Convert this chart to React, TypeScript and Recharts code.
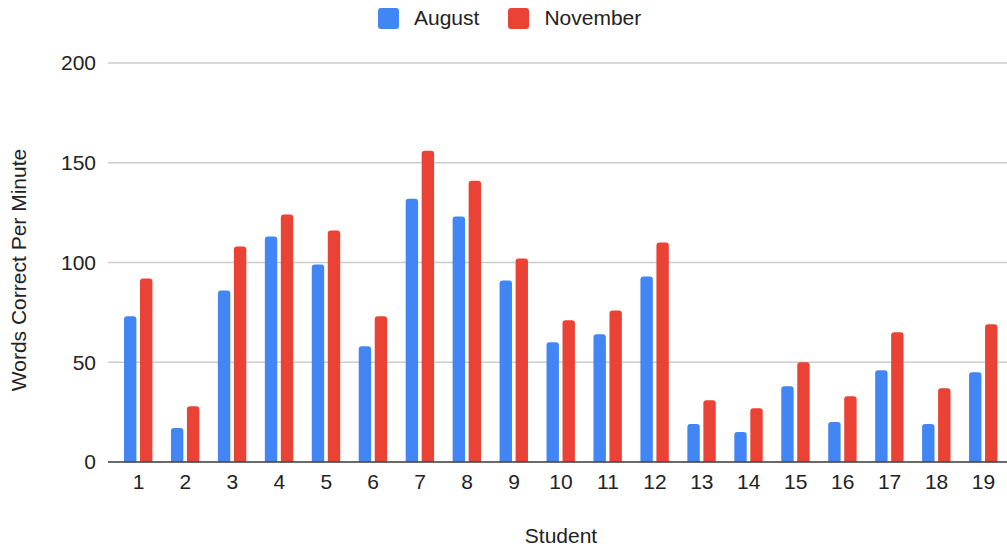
import React from "react";
import { BarChart, Bar, XAxis, YAxis, CartesianGrid, Legend } from "recharts";

const students = ["1", "2", "3", "4", "5", "6", "7", "8", "9", "10", "11", "12", "13", "14", "15", "16", "17", "18", "19"];
const august = [73, 17, 86, 113, 99, 58, 132, 123, 91, 60, 64, 93, 19, 15, 38, 20, 46, 19, 45];
const november = [92, 28, 108, 124, 116, 73, 156, 141, 102, 71, 76, 110, 31, 27, 50, 33, 65, 37, 69];
const yTicks = [0, 50, 100, 150, 200];

const BLUE = "#4285F4";
const RED = "#EA4335";
const FONT = "'Liberation Sans', Arial, Helvetica, sans-serif";

const data = students.map((s, i) => ({ student: s, August: august[i], November: november[i] }));

const series = [
  { key: "August", color: BLUE },
  { key: "November", color: RED },
];

const renderLegend = () => (
  <div style={{ display: "flex", alignItems: "center", fontFamily: FONT, fontSize: 21, color: "#222", height: 24 }}>
    {series.map((s, i) => (
      <div key={s.key} style={{ display: "flex", alignItems: "center", marginLeft: i === 0 ? 0 : 29 }}>
        <span style={{ width: 21, height: 21, background: s.color, borderRadius: 3, marginRight: 15, display: "inline-block" }} />
        <span>{s.key}</span>
      </div>
    ))}
  </div>
);

export default function App() {
  return (
    <div style={{ position: "absolute", left: 0, top: 0, width: 1007, height: 554, background: "#fff" }}>
      <BarChart
        width={1007}
        height={554}
        data={data}
        barSize={12.4}
        barGap={3.6}
        margin={{ top: 63, right: 0, bottom: 38, left: 0 }}
      >
        <CartesianGrid vertical={false} stroke="#cccccc" strokeWidth={1.3} />
        <XAxis
          dataKey="student"
          tickLine={false}
          axisLine={{ stroke: "#444", strokeWidth: 1.6 }}
          tick={{ fontSize: 21, fill: "#222", fontFamily: FONT }}
          tickMargin={6}
          interval={0}
          padding={{ left: 7, right: 0 }}
          height={30}
          label={{
            content: () => (
              <text x={561} y={543} textAnchor="middle" fontSize={21} fill="#222" fontFamily={FONT}>
                Student
              </text>
            ),
          }}
        />
        <YAxis
          width={108}
          domain={[0, 200]}
          ticks={yTicks}
          tickLine={false}
          axisLine={false}
          tick={{ fontSize: 21, fill: "#222", fontFamily: FONT }}
          tickMargin={6}
          label={{
            content: () => (
              <text
                x={18}
                y={270}
                transform="rotate(-90, 18, 270)"
                textAnchor="middle"
                dominantBaseline="central"
                fontSize={21}
                fill="#222"
                fontFamily={FONT}
              >
                Words Correct Per Minute
              </text>
            ),
          }}
        />
        <Legend
          content={renderLegend}
          wrapperStyle={{ position: "absolute", top: 6, left: 378, width: "auto" }}
        />
        {series.map((s) => (
          <Bar key={s.key} dataKey={s.key} fill={s.color} radius={[3, 3, 0, 0]} isAnimationActive={false} />
        ))}
      </BarChart>
    </div>
  );
}
